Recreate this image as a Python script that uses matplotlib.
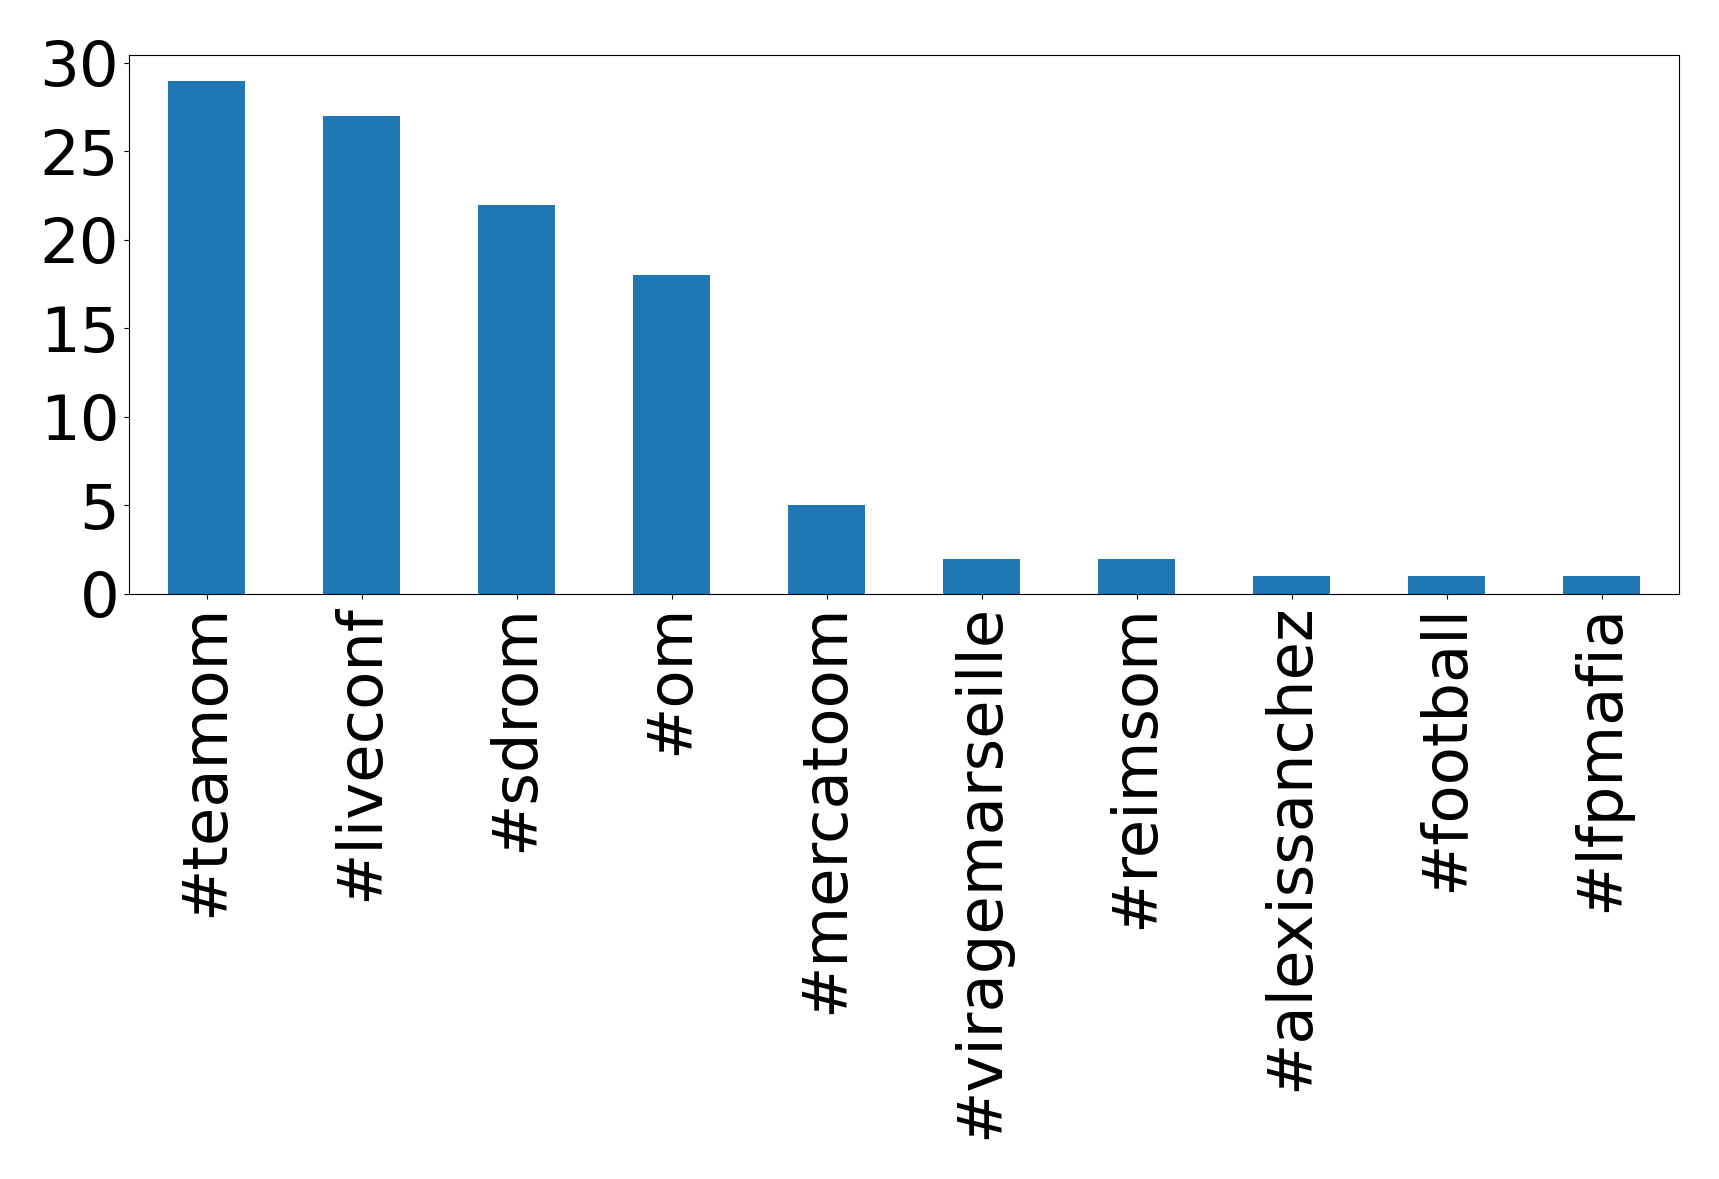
import matplotlib
matplotlib.use("Agg")
import matplotlib.pyplot as plt
import matplotlib.ticker as ticker
import pandas as pd

hashtags = ["#teamom", "#liveconf", "#sdrom", "#om", "#mercatoom",
            "#viragemarseille", "#reimsom", "#alexissanchez", "#football", "#lfpmafia"]
counts = [29, 27, 22, 18, 5, 2, 2, 1, 1, 1]

counts_series = pd.Series(counts, index=hashtags)

figure = plt.figure(figsize=(17.19, 11.79), dpi=100)
plot = figure.add_axes([129 / 1719, 1 - 594 / 1179, 1550 / 1719, 539 / 1179])
counts_series.plot(kind="bar", ax=plot, fontsize=45)
plot.yaxis.set_major_locator(ticker.MultipleLocator(5))
plot.tick_params(axis="both", labelsize=45)

figure.savefig("out.png", dpi=100)
plt.close(figure)
